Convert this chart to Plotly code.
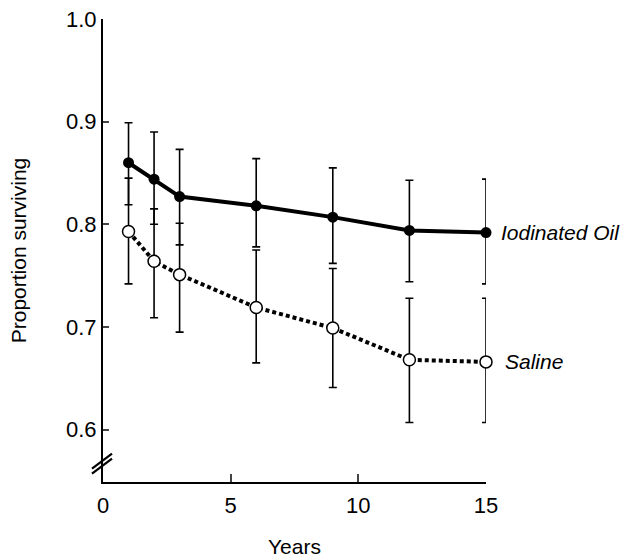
import plotly.graph_objects as go

years = [1, 2, 3, 6, 9, 12, 15]

oil_mean = [0.860, 0.844, 0.827, 0.818, 0.807, 0.794, 0.792]
oil_upper = [0.899, 0.890, 0.873, 0.864, 0.855, 0.843, 0.844]
oil_lower = [0.819, 0.800, 0.780, 0.778, 0.762, 0.744, 0.742]

saline_mean = [0.793, 0.764, 0.751, 0.719, 0.699, 0.668, 0.666]
saline_upper = [0.845, 0.815, 0.801, 0.775, 0.757, 0.728, 0.728]
saline_lower = [0.742, 0.709, 0.695, 0.665, 0.641, 0.607, 0.607]

y_ticks = [0.6, 0.7, 0.8, 0.9, 1.0]
x_ticks = [0, 5, 10, 15]

FONT = "Liberation Sans, Arial, Helvetica, sans-serif"

def err(mean, upper, lower):
    return dict(
        type="data", symmetric=False,
        array=[u - m for u, m in zip(upper, mean)],
        arrayminus=[m - l for m, l in zip(mean, lower)],
        color="black", thickness=1.6, width=4,
    )

fig = go.Figure()
fig.add_trace(go.Scatter(
    x=years, y=saline_mean, mode="lines+markers", name="Saline",
    line=dict(color="black", width=4, dash="4px,3px"),
    marker=dict(symbol="circle", size=12, color="white",
                line=dict(color="black", width=1.5)),
    error_y=err(saline_mean, saline_upper, saline_lower),
    cliponaxis=False, showlegend=False,
))
fig.add_trace(go.Scatter(
    x=years, y=oil_mean, mode="lines+markers", name="Iodinated Oil",
    line=dict(color="black", width=4),
    marker=dict(symbol="circle", size=11, color="black"),
    error_y=err(oil_mean, oil_upper, oil_lower),
    cliponaxis=False, showlegend=False,
))

fig.add_annotation(x=years[-1], y=oil_mean[-1], text="<i>Iodinated Oil</i>",
                   xanchor="left", yanchor="middle", xshift=13, showarrow=False,
                   font=dict(family=FONT, size=21, color="black"))
fig.add_annotation(x=years[-1], y=saline_mean[-1], text="<i>Saline</i>",
                   xanchor="left", yanchor="middle", xshift=17, showarrow=False,
                   font=dict(family=FONT, size=21, color="black"))

# axis break marks
for dy in (0, 5):
    fig.add_shape(type="line", xref="paper", yref="y",
                  xsizemode="pixel", xanchor=0, x0=-11, x1=9,
                  ysizemode="pixel", yanchor=0.567, y0=-10 + dy, y1=5 + dy,
                  line=dict(color="black", width=2.2))

fig.update_layout(
    width=627, height=558,
    margin=dict(l=103, r=141, t=19, b=76),
    paper_bgcolor="white", plot_bgcolor="white",
    font=dict(family=FONT, size=21, color="black"),
)
fig.update_xaxes(
    range=[0, 15], tickvals=x_ticks, ticks="inside", ticklen=8, tickwidth=2,
    showline=True, linewidth=2, linecolor="black", showgrid=False, zeroline=False,
    title=dict(text="Years", standoff=22, font=dict(size=21)),
    tickfont=dict(size=22), ticklabelstandoff=3, automargin=False,
)
fig.update_yaxes(
    range=[0.549, 1.0], tickvals=y_ticks, tickformat=".1f", ticks="inside",
    ticklen=6, tickwidth=2, showline=True, linewidth=2, linecolor="black",
    showgrid=False, zeroline=False,
    title=dict(text="Proportion surviving", standoff=34, font=dict(size=21)),
    tickfont=dict(size=22), automargin=False,
)

fig.write_html("out.html", config={"displayModeBar": False},
               post_script="document.body.style.margin='0';")
